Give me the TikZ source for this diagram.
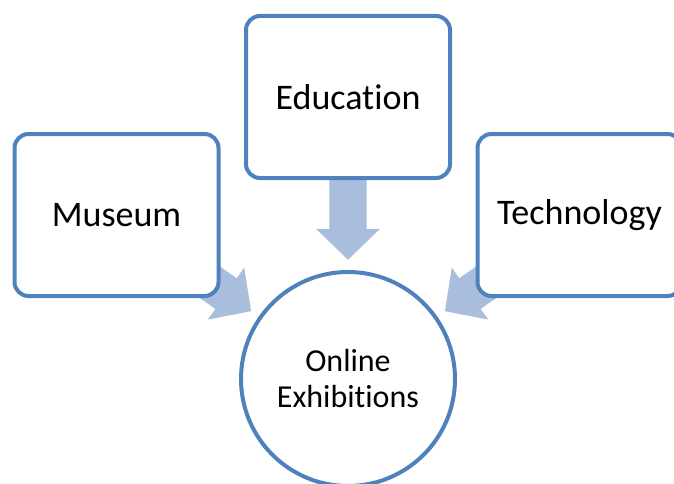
\documentclass[tikz,border=0pt]{standalone}
\usepackage{fontspec}
\setmainfont[Ligatures=NoCommon]{Carlito}
\usetikzlibrary{shapes.arrows,calc}
\definecolor{borderblue}{HTML}{4F81BD}
\definecolor{arrowblue}{HTML}{A9BDDC}
\tikzset{
  topicbox/.style={draw=borderblue, line width=4pt, fill=white, rounded corners=14pt,
    minimum width=204pt, minimum height=162pt, inner sep=0pt, align=center,
    font=\fontsize{36}{43}\selectfont},
  hubcircle/.style={circle, draw=borderblue, line width=4pt, fill=white,
    minimum size=214pt, inner sep=0pt, align=center,
    font=\fontsize{32}{36}\selectfont},
  blockarrow/.style={single arrow, fill=arrowblue, draw=none, inner xsep=0pt,
    inner ysep=18.5pt, minimum width=63pt, single arrow head extend=13pt,
    single arrow tip angle=92, anchor=tip}
}
\begin{document}
\begin{tikzpicture}[x=1pt,y=1pt]
\useasboundingbox (0,0) rectangle (674,483);
\node[hubcircle] (circ) at (348,104) {Online\\Exhibitions};
% block arrows (drawn under the boxes)
\node[blockarrow, minimum height=100pt, rotate=-35] (a1) at ($(circ.center)+(145:118pt)$) {};
\node[blockarrow, minimum height=92pt, rotate=-90] (a2) at ($(circ.center)+(90:119pt)$) {};
\node[blockarrow, minimum height=100pt, rotate=215] (a3) at ($(circ.center)+(35:118pt)$) {};
% boxes
\node[topicbox] (museum) at (116.5,268) {Museum};
\node[topicbox] (education) at (348,386) {Education};
\node[topicbox] (technology) at (579.5,268) {Technology};
\end{tikzpicture}
\end{document}
